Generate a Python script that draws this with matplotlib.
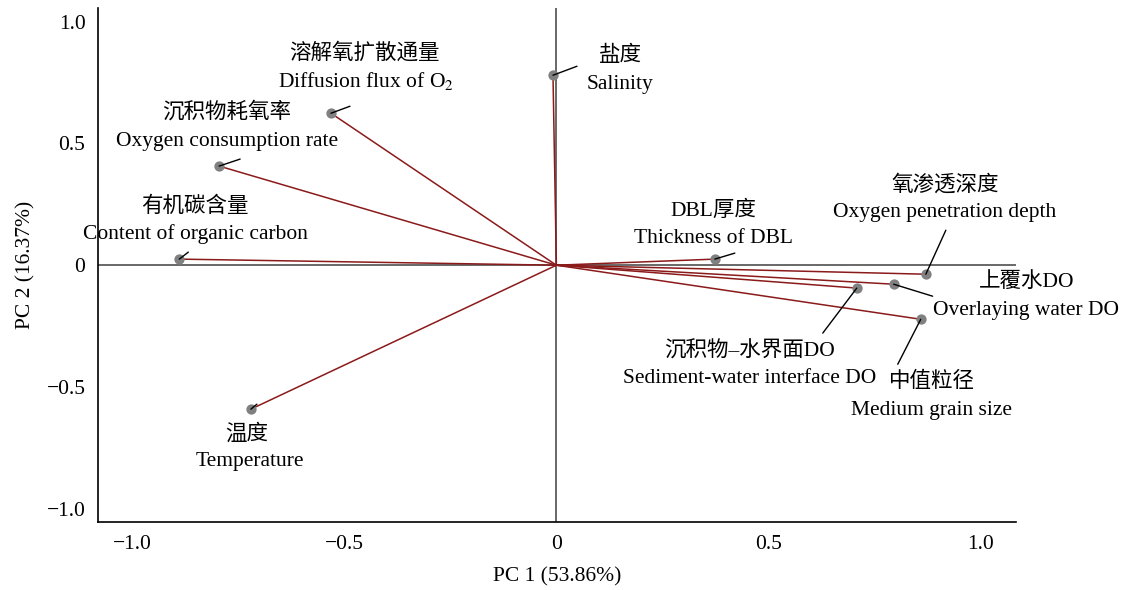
import numpy as np
import matplotlib
matplotlib.use("Agg")
import matplotlib.pyplot as plt
from matplotlib.ticker import FixedLocator, FuncFormatter

plt.rcParams["font.family"] = ["Liberation Serif", "Noto Sans CJK SC"]
plt.rcParams["mathtext.fontset"] = "stix"

# PCA loadings
NAMES_CN = ["盐度", "溶解氧扩散通量", "沉积物耗氧率", "有机碳含量", "温度",
            "DBL厚度", "氧渗透深度", "上覆水DO", "沉积物–水界面DO", "中值粒径"]
NAMES_EN = ["Salinity", "Diffusion flux of O$_2$", "Oxygen consumption rate",
            "Content of organic carbon", "Temperature", "Thickness of DBL",
            "Oxygen penetration depth", "Overlaying water DO",
            "Sediment-water interface DO", "Medium grain size"]
PC1 = [-0.008, -0.532, -0.796, -0.890, -0.721, 0.374, 0.872, 0.796, 0.709, 0.860]
PC2 = [0.780, 0.624, 0.407, 0.025, -0.591, 0.025, -0.037, -0.078, -0.094, -0.222]

# leader-line ends and label centres, offsets in pixels from each point
LEADER = [(24, 9), (19, 7), (21, 7), (9, 7), (6, 5),
          (20, 6), (20, 44), (39, -12), (-34, -45), (-23, -45)]
CN_POS = [(67, 19), (33, 60), (8, 54), (16, 52), (-4, -25),
          (-1, 48), (19, 89), (133, 2), (-107, -63), (11, -63)]
EN_POS = [(67, -9), (35, 32), (8, 25), (16, 25), (-1, -52),
          (-1, 21), (19, 62), (132, -26), (-107, -90), (11, -91)]

fig = plt.figure(figsize=(11.26, 5.90), dpi=100)
ax = fig.add_axes([0.087, 0.115, 0.815, 0.871])

ax.axhline(0, color="#404040", lw=1.1, zorder=1)
ax.axvline(0, color="#404040", lw=1.1, zorder=1)

for x, y in zip(PC1, PC2):
    ax.plot([0, x], [0, y], color="#8b1a1a", lw=1.1, zorder=2)
ax.scatter(PC1, PC2, s=55, color="#808080", zorder=3, linewidths=0)

fs = 15.5
for i in range(len(PC1)):
    pt = (PC1[i], PC2[i])
    ax.annotate("", xy=pt, xytext=LEADER[i], textcoords="offset pixels",
                arrowprops=dict(arrowstyle="-", color="black", lw=1.0,
                                shrinkA=0, shrinkB=0), zorder=4)
    ax.annotate(NAMES_CN[i], xy=pt, xytext=CN_POS[i], textcoords="offset pixels",
                ha="center", va="center", fontsize=fs)
    ax.annotate(NAMES_EN[i], xy=pt, xytext=EN_POS[i], textcoords="offset pixels",
                ha="center", va="center", fontsize=fs)

ax.set_xlim(-1.082, 1.084)
ax.set_ylim(-1.055, 1.055)

ticks = [-1.0, -0.5, 0, 0.5, 1.0]
fmt = FuncFormatter(lambda v, p: "0" if abs(v) < 1e-9 else f"{v:.1f}".replace("-", "\u2212"))
ax.xaxis.set_major_locator(FixedLocator(ticks))
ax.yaxis.set_major_locator(FixedLocator(ticks))
ax.xaxis.set_major_formatter(fmt)
ax.yaxis.set_major_formatter(fmt)
ax.tick_params(length=0, labelsize=fs, pad=9)

for side in ["top", "right"]:
    ax.spines[side].set_visible(False)
for side in ["left", "bottom"]:
    ax.spines[side].set_linewidth(1.2)

ax.set_xlabel("PC 1 (53.86%)", fontsize=fs, labelpad=10)
ax.set_ylabel("PC 2 (16.37%)", fontsize=fs, labelpad=8)

fig.savefig("out.png", dpi=100)
